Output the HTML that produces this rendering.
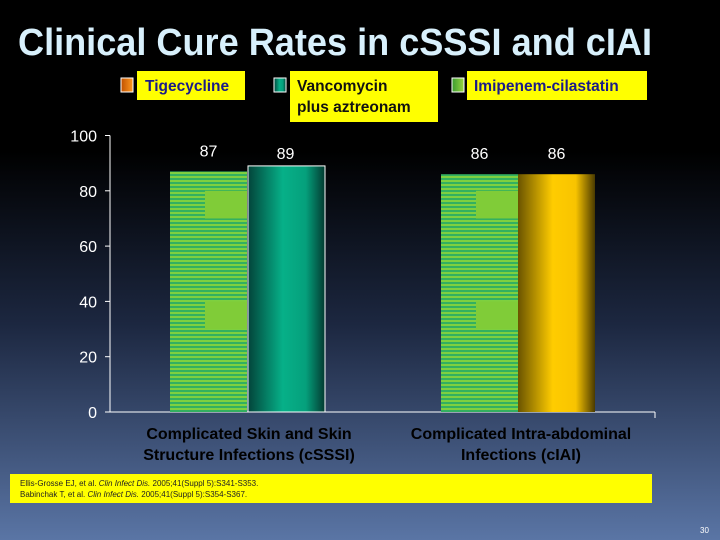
<!DOCTYPE html>
<html><head><meta charset="utf-8"><style>
html,body{margin:0;padding:0;width:720px;height:540px;overflow:hidden}
svg{display:block;font-family:"Liberation Sans",sans-serif}
</style></head><body>
<svg id="chart" width="720" height="540" viewBox="0 0 720 540">
<defs>
<linearGradient id="bg" x1="0" y1="0" x2="0" y2="1">
<stop offset="0" stop-color="#000"/><stop offset="0.28" stop-color="#000"/><stop offset="0.6" stop-color="#1c2740"/><stop offset="1" stop-color="#5a75a5"/>
</linearGradient>
<linearGradient id="teal" x1="0" y1="0" x2="1" y2="0">
<stop offset="0" stop-color="#03443a"/><stop offset="0.45" stop-color="#06b088"/><stop offset="0.75" stop-color="#05a07c"/><stop offset="1" stop-color="#033a30"/>
</linearGradient>
<linearGradient id="gold" x1="0" y1="0" x2="1" y2="0">
<stop offset="0" stop-color="#6a5400"/><stop offset="0.45" stop-color="#ffcc00"/><stop offset="0.75" stop-color="#f8c400"/><stop offset="1" stop-color="#4a3a00"/>
</linearGradient>
<linearGradient id="orange" x1="0" y1="0" x2="1" y2="0"><stop offset="0" stop-color="#c05000"/><stop offset="1" stop-color="#ff9a20"/></linearGradient>
<linearGradient id="lgreen" x1="0" y1="0" x2="1" y2="0"><stop offset="0" stop-color="#3a9a30"/><stop offset="1" stop-color="#9ad840"/></linearGradient>
<pattern id="stripes" width="4" height="4" patternUnits="userSpaceOnUse">
<rect width="4" height="4" fill="#7ed040"/><rect y="2" width="4" height="2" fill="#33b060"/>
</pattern>
</defs>
<rect width="720" height="540" fill="url(#bg)"/>
<text x="18" y="55" font-size="38" font-weight="bold" fill="#d8f0fc" textLength="634" lengthAdjust="spacingAndGlyphs">Clinical Cure Rates in cSSSI and cIAI</text>
<g id="legend">
<g>
<rect x="121" y="78" width="12" height="14" fill="url(#orange)" stroke="#fff" stroke-width="1"/>
<rect x="137" y="71" width="108" height="29" fill="#ffff00"/>
<text x="145" y="91" font-size="15.5" font-weight="bold" fill="#1a1a8a">Tigecycline</text></g>
<g>
<rect x="274" y="78" width="12" height="14" fill="url(#teal)" stroke="#fff" stroke-width="1"/>
<rect x="290" y="71" width="148" height="51" fill="#ffff00"/>
<text x="297" y="91" font-size="15.5" font-weight="bold" fill="#111">Vancomycin</text>
<text x="297" y="112" font-size="15.5" font-weight="bold" fill="#111">plus aztreonam</text></g>
<g>
<rect x="452" y="78" width="12" height="14" fill="url(#lgreen)" stroke="#fff" stroke-width="1"/>
<rect x="467" y="71" width="180" height="29" fill="#ffff00"/>
<text x="474" y="91" font-size="15.5" font-weight="bold" fill="#1a1a8a">Imipenem-cilastatin</text></g>
</g>
<g id="axes"></g>
<g id="bars"></g>
<rect x="10" y="474" width="642" height="29" fill="#ffff00"/>
<text x="20" y="486" font-size="8" fill="#222">Ellis-Grosse EJ, et al. <tspan font-style="italic">Clin Infect Dis.</tspan> 2005;41(Suppl 5):S341-S353.</text>
<text x="20" y="497" font-size="8" fill="#222">Babinchak T, et al. <tspan font-style="italic">Clin Infect Dis.</tspan> 2005;41(Suppl 5):S354-S367.</text>
<text x="700" y="533" font-size="8" fill="#fff">30</text>
</svg>
<script>
const categories = ["Complicated Skin and Skin|Structure Infections (cSSSI)", "Complicated Intra-abdominal|Infections (cIAI)"];
const tigecyclineValues = [87, 86];
const comparatorValues = [89, 86];
const yTicks = [0, 20, 40, 60, 80, 100];
const NS = "http://www.w3.org/2000/svg";
const x0 = 110, x1 = 655, yBase = 412, yTop = 135.5;
const y = v => yBase - (v / 100) * (yBase - yTop);
const groupStart = [170, 441], barW = 77;
function mk(tag, attrs, parent) { const e = document.createElementNS(NS, tag); for (const k in attrs) e.setAttribute(k, attrs[k]); parent.appendChild(e); return e; }
const axes = document.getElementById('axes'), bars = document.getElementById('bars');
const ya = mk('line', {x1: x0, y1: yTop, x2: x0, y2: yBase, stroke: '#fff', 'stroke-width': 1}, axes);


const xa = mk('line', {x1: x0 - 5, y1: yBase, x2: x1, y2: yBase, stroke: '#fff', 'stroke-width': 1}, axes);


mk('line', {x1: x1, y1: yBase, x2: x1, y2: yBase + 6, stroke: '#fff'}, axes);
yTicks.forEach(t => {
  mk('line', {x1: x0 - 5, y1: y(t), x2: x0, y2: y(t), stroke: '#fff'}, axes);
  const tx = mk('text', {x: 97, y: y(t) + 6, 'font-size': 16, fill: '#fff', 'text-anchor': 'end'}, axes);
  tx.textContent = t;
  
  
});
categories.forEach((c, i) => {
  const gx = groupStart[i];
  const v1 = tigecyclineValues[i], v2 = comparatorValues[i];
  const b1 = mk('rect', {x: gx, y: y(v1), width: barW, height: yBase - y(v1), fill: 'url(#stripes)'}, bars);
  
  
  [[70, 80], [30, 40]].forEach(([a, b]) => {
    if (v1 > a) mk('rect', {x: gx + 35, y: y(Math.min(b, v1)), width: barW - 35, height: y(a) - y(Math.min(b, v1)), fill: '#80cc38'}, bars);
  });
  const b2 = mk('rect', {x: gx + barW + (i === 0 ? 1 : 0), y: y(v2), width: barW, height: yBase - y(v2), fill: i === 0 ? 'url(#teal)' : 'url(#gold)', stroke: i === 0 ? '#fff' : 'none', 'stroke-width': 1}, bars);
  
  
  [[v1, gx + barW / 2, 15], [v2, gx + barW * 1.5, i === 0 ? 7 : 15]].forEach(([v, cx, off]) => {
    const t = mk('text', {x: cx, y: y(v) - off, 'font-size': 16, fill: '#fff', 'text-anchor': 'middle'}, bars);
    t.textContent = v;
    
    
  });
  const lines = c.split('|');
  lines.forEach((ln, j) => {
    const t = mk('text', {x: gx + barW + (i === 0 ? 2 : 3), y: 439 + j * 21, 'font-size': 16, 'font-weight': 'bold', fill: '#000', 'text-anchor': 'middle'}, bars);
    t.textContent = ln;
    
    
  });
});
</script>
</body></html>
